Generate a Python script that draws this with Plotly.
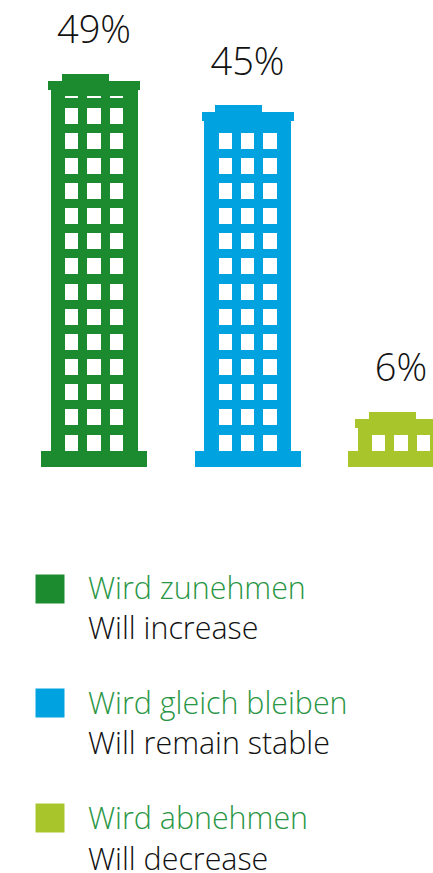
import plotly.graph_objects as go

categories_de = ["Wird zunehmen", "Wird gleich bleiben", "Wird abnehmen"]
categories_en = ["Will increase", "Will remain stable", "Will decrease"]
values = [49, 45, 6]
colors = ["#1C8A2E", "#00A3E0", "#A8C62B"]

W, H = 433, 873
PX_PER_PCT = 7.86         # vertical scale
ZERO_PX = 459             # pixel row of 0 %
UNIT = 153.5              # px between buildings
X0 = 94.0                 # px of first building
FONT = "Open Sans"


def dx(px):
    return px / UNIT


def dy(px):
    return px / PX_PER_PCT


xr = [-X0 / UNIT, (W - X0) / UNIT]
yr = [-(H - ZERO_PX) / PX_PER_PCT, ZERO_PX / PX_PER_PCT]

fig = go.Figure()


def bar(x, base, height, width, color):
    fig.add_trace(go.Bar(x=x, y=height, base=base, width=width,
                         marker=dict(color=color, line=dict(width=0)),
                         hoverinfo="skip", showlegend=False))


idx = list(range(len(values)))
bottom = -dy(8)
plinth_top = bottom + dy(16)

for i, v in enumerate(values):
    top = v
    cap_top = top - dy(7)
    cap_bottom = cap_top - dy(9)
    # body
    bar([i], [bottom], [cap_bottom - bottom], [dx(87)], colors[i])
    # windows, rising from the plinth until they meet the cap
    xs, bs, hs = [], [], []
    k = 0
    limit = cap_bottom - dy(6.5)
    while True:
        b = plinth_top + dy(0.5) + k * dy(25.15)
        if b + dy(0.3) > limit:
            break
        h = min(dy(16), limit - b)
        for c in (-1, 0, 1):
            xs.append(i + c * dx(22.3))
            bs.append(b)
            hs.append(h)
        k += 1
    bar(xs, bs, hs, [dx(13.4)] * len(xs), "#FFFFFF")
    # cornice, roof (set left of centre), plinth
    bar([i], [cap_bottom], [cap_top - cap_bottom], [dx(92)], colors[i])
    bar([i - dx(8.7)], [cap_top], [top - cap_top], [dx(47)], colors[i])
    bar([i], [bottom], [plinth_top - bottom], [dx(106)], colors[i])

# value labels
fig.add_trace(go.Scatter(
    x=idx, y=[v + dy(21) for v in values], mode="text",
    text=[f"{v}%" for v in values],
    textposition="top center",
    textfont=dict(family=FONT, size=38, color="#111111", weight=300),
    cliponaxis=False, hoverinfo="skip", showlegend=False))

# legend
LEG_Y = [589, 703, 818]
DE_Y = [587.5, 702.5, 817.5]
EN_Y = [627, 742, 858]
for i in idx:
    x_m = (50 - X0) / UNIT
    fig.add_trace(go.Scatter(
        x=[x_m], y=[(ZERO_PX - LEG_Y[i]) / PX_PER_PCT], mode="markers",
        marker=dict(symbol="square", size=29, color=colors[i], line=dict(width=0)),
        hoverinfo="skip", showlegend=False))
    fig.add_annotation(
        x=(86 - X0) / UNIT, y=(ZERO_PX - DE_Y[i]) / PX_PER_PCT,
        xanchor="left", yanchor="middle",
        text=categories_de[i], showarrow=False,
        font=dict(family=FONT, size=30.4, color="#2A9645", weight=300))
    fig.add_annotation(
        x=(86 - X0) / UNIT, y=(ZERO_PX - EN_Y[i]) / PX_PER_PCT,
        xanchor="left", yanchor="middle",
        text=categories_en[i], showarrow=False,
        font=dict(family=FONT, size=30.4, color="#111111", weight=300))

fig.update_layout(
    width=W, height=H, margin=dict(l=0, r=0, t=0, b=0),
    paper_bgcolor="white", plot_bgcolor="white",
    barmode="overlay", bargap=0,
    xaxis=dict(range=xr, visible=False, fixedrange=True),
    yaxis=dict(range=yr, visible=False, fixedrange=True),
)
fig.write_html("out.html", config={"displayModeBar": False},
               post_script="document.body.style.margin='0';document.body.style.overflow='hidden';")
